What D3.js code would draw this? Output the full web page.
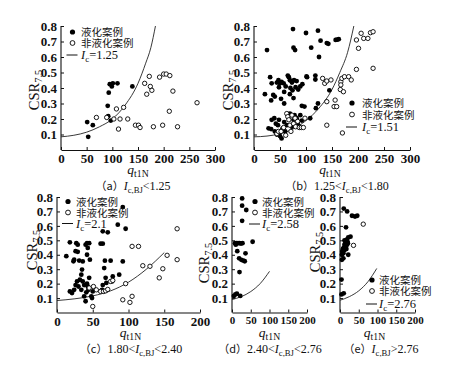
<!DOCTYPE html>
<html>
<head>
<meta charset="utf-8">
<script src="https://cdn.jsdelivr.net/npm/d3@7"></script>
<style>
  body { margin: 0; background: #fff; }
  text { font-family: "Liberation Serif", "Times New Roman", serif; fill: #111; }
  .cn { font-family: "Noto Sans CJK SC", sans-serif; }
</style>
</head>
<body>
<script>
// values: [q_t1N, CSR_7.5]

// (a) Ic,BJ < 1.25
var liqA = [[51,0.18],[53,0.085],[62,0.16],[91,0.285],[92,0.218],[93,0.37],[95,0.425],[99,0.41],[101,0.43],[97,0.19],[110,0.43],[139,0.41]];
var nonA = [[69,0.21],[89,0.21],[103,0.20],[108,0.265],[112,0.135],[115,0.20],[122,0.275],[130,0.20],[145,0.16],[151,0.16],[154,0.145],[163,0.43],[167,0.36],[172,0.475],[174,0.41],[177,0.385],[180,0.15],[192,0.47],[198,0.16],[200,0.49],[205,0.49],[211,0.25],[212,0.48],[218,0.38],[227,0.15],[265,0.305]];
var curveA = [[0,0.085],[25,0.095],[50,0.115],[75,0.15],[100,0.2],[125,0.29],[150,0.43],[165,0.56],[175,0.66],[184,0.8]];

// (b) 1.25 < Ic,BJ < 1.80
var liqB = [[25,0.645],[75,0.78],[76,0.66],[79,0.645],[100,0.755],[123,0.77],[128,0.705],[110,0.66],[140,0.69],[143,0.685],[157,0.71],[160,0.712],[163,0.715],[125,0.6],[102,0.47],[118,0.48],[118,0.455],
  [21,0.36],[31,0.47],[34,0.43],[37,0.355],[33,0.32],[40,0.345],[44,0.435],[47,0.45],[50,0.43],[48,0.405],[53,0.44],[57,0.43],[58,0.375],[61,0.41],[65,0.48],[67,0.47],[69,0.45],[73,0.435],[70,0.4],[74,0.385],[77,0.45],[80,0.405],[82,0.445],[85,0.39],[89,0.41],[93,0.425],[101,0.475],[58,0.30],[76,0.335],[92,0.285],[97,0.28],[52,0.33],[69,0.36],
  [28,0.14],[33,0.135],[39,0.205],[40,0.12],[44,0.1],[46,0.16],[48,0.195],[50,0.09],[53,0.075],[55,0.14],[58,0.18],[60,0.12],[63,0.16],[66,0.215],[69,0.235],[73,0.15],[76,0.195],[78,0.225],[82,0.205],[85,0.16],[89,0.225],[92,0.19],[108,0.205],[119,0.27],[123,0.3],[145,0.385],[42,0.17],[34,0.195]];
var nonB = [[44,0.105],[47,0.12],[61,0.095],[63,0.235],[65,0.215],[67,0.195],[69,0.16],[73,0.225],[76,0.17],[79,0.205],[80,0.15],[84,0.185],[87,0.145],[91,0.145],[95,0.145],[98,0.205],[57,0.145],[52,0.12],[71,0.12],
  [132,0.462],[136,0.43],[140,0.445],[148,0.452],[140,0.312],[156,0.322],[154,0.28],[159,0.28],[140,0.16],[170,0.11],[167,0.44],[169,0.462],[174,0.473],[182,0.473],[187,0.452],[166,0.39],[172,0.376],[167,0.42],
  [197,0.52],[197,0.71],[201,0.656],[206,0.753],[211,0.72],[219,0.72],[224,0.757],[229,0.763],[229,0.527]];
var curveB = [[0,0.085],[25,0.09],[50,0.105],[75,0.135],[100,0.19],[125,0.27],[150,0.39],[165,0.5],[180,0.63],[192,0.8]];

// (c) 1.80 < Ic,BJ < 2.40
var liqC = [[13,0.39],[18,0.486],[18,0.146],[21,0.135],[24,0.157],[27,0.48],[26,0.425],[24,0.366],[23,0.355],[29,0.47],[29,0.42],[31,0.36],[28,0.215],[26,0.19],[30,0.18],[32,0.227],[35,0.297],[34,0.262],[34,0.157],[36,0.354],[36,0.215],[38,0.19],[40,0.47],[42,0.48],[43,0.447],[42,0.4],[41,0.14],[40,0.078],[42,0.2],[43,0.18],[44,0.157],[45,0.48],[46,0.366],[45,0.24],[48,0.112],[50,0.146],[49,0.1],[38,0.112],
  [64,0.562],[61,0.477],[64,0.477],[66,0.308],[67,0.359],[68,0.24],[69,0.205],[64,0.19],[71,0.555],[75,0.359],[78,0.25],[77,0.215],[85,0.608],[87,0.262],[92,0.73],[92,0.354],[96,0.58],[63,0.157]];
var nonC = [[45,0.17],[51,0.18],[55,0.157],[61,0.146],[65,0.146],[68,0.15],[71,0.16],[75,0.215],[78,0.222],[50,0.042],[92,0.088],[96,0.2],[102,0.07],[105,0.112],[105,0.458],[114,0.458],[120,0.324],[130,0.32],[143,0.24],[148,0.303],[154,0.396],[168,0.58],[168,0.366]];
var curveC = [[0,0.083],[25,0.095],[50,0.115],[75,0.15],[100,0.21],[125,0.3],[150,0.415]];

// (d) 2.40 < Ic,BJ < 2.76
var liqD = [[27,0.79],[27,0.74],[38,0.71],[27,0.635],[8,0.48],[12,0.48],[16,0.48],[20,0.48],[24,0.478],[28,0.48],[10,0.47],[14,0.425],[36,0.41],[19,0.375],[25,0.365],[30,0.36],[34,0.355],[20,0.28],[55,0.49],[5,0.115],[9,0.125],[13,0.13],[22,0.115]];
var nonD = [];
var curveD = [[0,0.09],[25,0.11],[50,0.145],[75,0.2],[100,0.285]];

// (e) Ic,BJ > 2.76
var liqE = [[10,0.72],[19,0.70],[16,0.59],[32,0.67],[40,0.665],[46,0.67],[22,0.52],[28,0.525],[18,0.505],[5,0.40],[6,0.42],[8,0.44],[10,0.45],[12,0.47],[14,0.48],[16,0.49],[18,0.485],[20,0.49],[7,0.43],[9,0.41],[11,0.43],[13,0.45],[15,0.46],[17,0.44],[19,0.47],[12,0.5],[21,0.48],[22,0.4],[5,0.365],[9,0.375],[4,0.228],[4,0.125],[10,0.133]];
var nonE = [[36,0.465],[62,0.612]];
var curveE = [[0,0.085],[25,0.11],[50,0.15],[75,0.215],[98,0.305]];

var ticksX300 = [0, 50, 100, 150, 200, 250, 300];
var ticksX200 = [0, 50, 100, 150, 200];
var ticksY = [0.1, 0.2, 0.3, 0.4, 0.5, 0.6, 0.7, 0.8];
var legendNames = ["液化案例", "非液化案例"];

var svg = d3.select("body").append("svg")
    .attr("width", 450)
    .attr("height", 372);

// text with italic / subscript pieces
function rich(t, parts) {
    var shift = 0;
    parts.forEach(function (p) {
        var s = t.append("tspan").text(p[0]);
        var want = p[1].indexOf("s") >= 0 ? 3 : 0;
        if (want !== shift) { s.attr("dy", want - shift); shift = want; }
        if (p[1].indexOf("s") >= 0) s.attr("font-size", "0.72em");
        if (p[1].indexOf("i") >= 0) s.attr("font-style", "italic");
    });
    return t;
}

function panel(p) {
    var x = d3.scaleLinear().domain([0, p.xmax]).range([p.x0, p.x1]);
    var y = d3.scaleLinear().domain([0, 0.8]).range([p.y0, p.y1]);
    var g = svg.append("g");

    var xAxis = g.append("g")
        .attr("transform", "translate(0," + p.y0 + ")")
        .call(d3.axisBottom(x).tickValues(p.xticks).tickSize(-3).tickSizeOuter(0).tickPadding(4));
    var yAxis = g.append("g")
        .attr("transform", "translate(" + p.x0 + ",0)")
        .call(d3.axisLeft(y).tickValues(ticksY).tickSize(-3).tickSizeOuter(0).tickPadding(4));
    g.selectAll(".domain").attr("stroke", "#111").attr("stroke-width", 1.1);
    g.selectAll(".tick line").attr("stroke", "#111");
    g.selectAll(".tick text")
        .attr("font-family", "Liberation Serif, serif")
        .attr("font-size", 13)
        .attr("font-weight", "bold")
        .attr("fill", "#1a1a1a");
    xAxis.selectAll(".tick text").attr("font-size", p.xtickSize);
    yAxis.select(".domain").attr("d", "M0," + p.y0 + "V" + y(0.8));

    // boundary curve
    g.append("path")
        .datum(p.curve)
        .attr("fill", "none")
        .attr("stroke", "#222")
        .attr("stroke-width", 0.9)
        .attr("d", d3.line()
            .x(function (d) { return x(d[0]); })
            .y(function (d) { return y(d[1]); })
            .curve(d3.curveMonotoneX));

    g.selectAll(".liq")
        .data(p.liq)
        .enter().append("circle")
        .attr("cx", function (d) { return x(d[0]); })
        .attr("cy", function (d) { return y(d[1]); })
        .attr("r", 2.4)
        .attr("fill", "#000");

    g.selectAll(".non")
        .data(p.non)
        .enter().append("circle")
        .attr("cx", function (d) { return x(d[0]); })
        .attr("cy", function (d) { return y(d[1]); })
        .attr("r", 2.2)
        .attr("fill", "#fff")
        .attr("stroke", "#000")
        .attr("stroke-width", 0.9);

    // legend
    var L = p.legend;
    g.append("circle").attr("cx", L.mx).attr("cy", L.rows[0]).attr("r", 2.6).attr("fill", "#000");
    g.append("circle").attr("cx", L.mx).attr("cy", L.rows[1]).attr("r", 2.4)
        .attr("fill", "#fff").attr("stroke", "#000").attr("stroke-width", 0.9);
    g.append("line")
        .attr("x1", L.mx - 6).attr("x2", L.mx + 5)
        .attr("y1", L.rows[2]).attr("y2", L.rows[2])
        .attr("stroke", "#111").attr("stroke-width", 1);
    legendNames.forEach(function (name, i) {
        g.append("text").attr("class", "cn")
            .attr("x", L.tx).attr("y", L.rows[i] + 4)
            .attr("font-size", 10.5)
            .text(name);
    });
    rich(g.append("text").attr("x", L.tx).attr("y", L.rows[2] + 4).attr("font-size", 12.5),
        [["I", "i"], ["c", "s"], ["=" + p.ic, ""]]);

    // axis titles
    rich(g.append("text")
        .attr("transform", "translate(" + p.ylab[0] + "," + p.ylab[1] + ") rotate(-90)")
        .attr("text-anchor", "middle")
        .attr("font-size", 14.5),
        [["CSR", ""], ["7.5", "s"]]);
    rich(g.append("text")
        .attr("x", (p.x0 + p.x1) / 2 + p.xlabShift)
        .attr("y", p.y0 + 24)
        .attr("text-anchor", "middle")
        .attr("font-size", 13.5),
        [["q", "i"], ["t1N", "s"]]);

    // caption
    var cap = g.append("text")
        .attr("x", p.cap[0]).attr("y", p.cap[1])
        .attr("text-anchor", "middle")
        .attr("font-size", 12);
    cap.append("tspan").attr("class", "cn").attr("font-size", 11).text("（" + p.id + "）");
    rich(cap, p.capParts);
}

panel({ id: "a", liq: liqA, non: nonA, curve: curveA, ic: "1.25", xmax: 300, xticks: ticksX300, xtickSize: 13,
    x0: 61, x1: 215, y0: 150, y1: 26, ylab: [39, 90], xlabShift: 0, cap: [133, 190],
    legend: { mx: 72.5, tx: 81, rows: [32, 43, 55] },
    capParts: [["I", "i"], ["c,BJ", "s"], ["<1.25", ""]] });

panel({ id: "b", liq: liqB, non: nonB, curve: curveB, ic: "1.51", xmax: 300, xticks: ticksX300, xtickSize: 13,
    x0: 254, x1: 410, y0: 150, y1: 26, ylab: [233, 90], xlabShift: -2, cap: [337, 190],
    legend: { mx: 352, tx: 362, rows: [103, 114.5, 127] },
    capParts: [["1.25<", ""], ["I", "i"], ["c,BJ", "s"], ["<1.80", ""]] });

panel({ id: "c", liq: liqC, non: nonC, curve: curveC, ic: "2.1", xmax: 200, xticks: ticksX200, xtickSize: 13,
    x0: 57, x1: 200, y0: 312.5, y1: 197, ylab: [37, 250], xlabShift: 2, cap: [131, 353],
    legend: { mx: 68, tx: 76, rows: [201.5, 212.5, 223.5] },
    capParts: [["1.80<", ""], ["I", "i"], ["c,BJ", "s"], ["<2.40", ""]] });

panel({ id: "d", liq: liqD, non: nonD, curve: curveD, ic: "2.58", xmax: 200, xticks: ticksX200, xtickSize: 11,
    x0: 232, x1: 307, y0: 312.5, y1: 197, ylab: [209, 263], xlabShift: 0, cap: [270, 353],
    legend: { mx: 255, tx: 262, rows: [201.5, 212.5, 224] },
    capParts: [["2.40<", ""], ["I", "i"], ["c,BJ", "s"], ["<2.76", ""]] });

panel({ id: "e", liq: liqE, non: nonE, curve: curveE, ic: "2.76", xmax: 200, xticks: ticksX200, xtickSize: 11,
    x0: 340, x1: 415, y0: 312.5, y1: 197, ylab: [320, 252], xlabShift: -3, cap: [381, 353],
    legend: { mx: 372, tx: 379, rows: [280, 291, 304] },
    capParts: [["I", "i"], ["c,BJ", "s"], [">2.76", ""]] });
</script>
</body>
</html>
